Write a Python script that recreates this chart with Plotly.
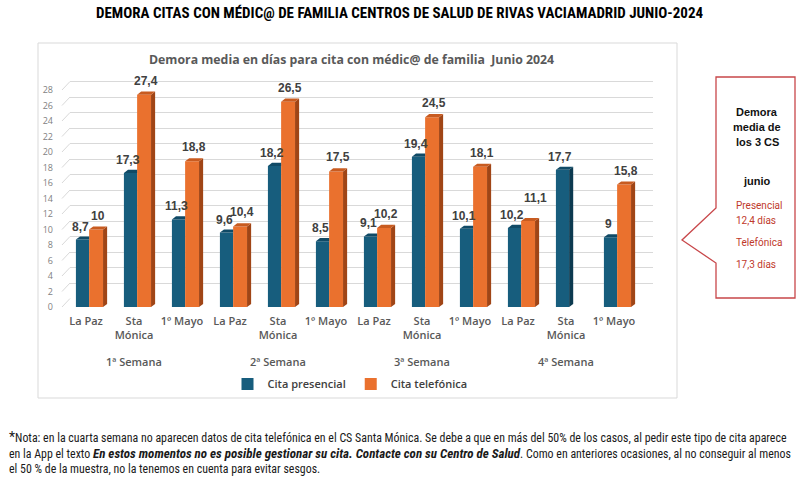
import plotly.graph_objects as go

# ---------------- data ----------------
weeks = ["1ª Semana", "2ª Semana", "3ª Semana", "4ª Semana"]
centros = ["La Paz", "Sta<br>Mónica", "1º Mayo"]
presencial = [8.7, 17.3, 11.3, 9.6, 18.2, 8.5, 9.1, 19.4, 10.1, 10.2, 17.7, 9.0]
telefonica = [10.0, 27.4, 18.8, 10.4, 26.5, 17.5, 10.2, 24.5, 18.1, 11.1, None, 15.8]
yticks = list(range(0, 29, 2))
series_names = ["Cita presencial", "Cita telefónica"]

title_main = "DEMORA CITAS CON MÉDIC@ DE FAMILIA CENTROS DE SALUD DE RIVAS VACIAMADRID JUNIO-2024"
title_chart = "Demora media en días para cita con médic@ de familia  Junio 2024"
callout_head = ["Demora", "media de", "los 3 CS", "junio"]
callout_red = ["Presencial", "12,4 días", "Telefónica", "17,3 días"]
note_lines = [
    "<span style='font-size:14px'>*</span>Nota: en la cuarta semana no aparecen datos de cita telefónica en el CS Santa Mónica. Se debe a que en más del 50% de los casos, al pedir este tipo de cita aparece",
    "en la App el texto <span style='font-size:13px'><b><i>En estos momentos no es posible gestionar su cita. Contacte con su Centro de Salud</i></b></span>. Como en anteriores ocasiones, al no conseguir al menos",
    "el 50 % de la muestra, no la tenemos en cuenta para evitar sesgos.",
]

n = len(presencial)
xs = list(range(n))
ticktext = [centros[i % 3] for i in xs]

# ---------------- geometry / style ----------------
W, H = 800, 478
L, R, T, B = 62, 147, 66, 171
PW, PH = W - L - R, H - T - B


def X(px):
    return (px - L) / PW


def Y(py):
    return (H - B - py) / PH


BLUE, BLUE_TOP, BLUE_SIDE = "#175D7D", "#104A66", "#0C3A50"
ORG, ORG_TOP, ORG_SIDE = "#EA712E", "#C85B20", "#A04516"
b_off, b_w = -0.21, 0.275
o_off, o_w = 0.065, 0.29
dx, dy = 0.085, 0.4
GRID = "#D9D9D9"

fig = go.Figure()

# dummy trace on the grid subplot (xy)
fig.add_trace(go.Scatter(x=[], y=[], xaxis="x", yaxis="y", showlegend=False, hoverinfo="skip"))

# front faces
fig.add_trace(go.Bar(x=xs, y=presencial, offset=b_off, width=b_w, marker=dict(color=BLUE, line=dict(width=0)),
                     name=series_names[0], xaxis="x2", yaxis="y2"))
fig.add_trace(go.Bar(x=xs, y=telefonica, offset=o_off, width=o_w, marker=dict(color=ORG, line=dict(width=0)),
                     name=series_names[1], xaxis="x2", yaxis="y2"))


def poly(px, py, color):
    fig.add_trace(go.Scatter(x=px + [px[0]], y=py + [py[0]], fill="toself", fillcolor=color, mode="lines",
                             line=dict(width=0, color=color), showlegend=False, hoverinfo="skip",
                             xaxis="x2", yaxis="y2"))


for i in xs:
    v = presencial[i]
    t = telefonica[i]
    x0, x1 = i + b_off, i + b_off + b_w
    if t is None:
        poly([x1, x1, x1 + dx, x1 + dx], [0, v, v + dy, dy], BLUE_SIDE)
        poly([x0, x1, x1 + dx, x0 + dx], [v, v, v + dy, v + dy], BLUE_TOP)
    else:
        poly([x0, x1, x1, x0 + dx], [v, v, v + dy, v + dy], BLUE_TOP)
    if t is not None:
        o0, o1 = i + o_off, i + o_off + o_w
        poly([o1, o1, o1 + dx, o1 + dx], [0, t, t + dy, dy], ORG_SIDE)
        poly([o0, o1, o1 + dx, o0 + dx], [t, t, t + dy, t + dy], ORG_TOP)


def fmt(v):
    return f"{v:g}".replace(".", ",")


LBL = dict(family="Liberation Sans", size=12, color="#404040", weight="bold")
annotations = []
for i in xs:
    v, t = presencial[i], telefonica[i]
    annotations.append(dict(x=i + b_off + b_w / 2 - 0.05, y=v, xref="x2", yref="y2", text=fmt(v),
                            showarrow=False, xanchor="center", yanchor="bottom", yshift=4, font=LBL))
    if t is not None:
        crowded = len(fmt(v)) >= 4 and len(fmt(t)) >= 4 and abs(t - v) < 1.5
        annotations.append(dict(x=i + o_off + o_w / 2 + 0.03, y=t, xref="x2", yref="y2", text=fmt(t),
                                showarrow=False, xanchor="center", yanchor="bottom",
                                yshift=14 if crowded else 5, xshift=6 if crowded else 0, font=LBL))

# week labels
for k, wname in enumerate(weeks):
    annotations.append(dict(x=3 * k + 1, y=Y(361), xref="x2", yref="paper", text=wname, showarrow=False,
                            xanchor="center", yanchor="middle",
                            font=dict(family="Open Sans", size=11, color="#595959", weight=600)))

# titles
annotations.append(dict(x=X(400), y=Y(13), xref="paper", yref="paper", text=f"<b>{title_main}</b>", showarrow=False,
                        font=dict(family="Liberation Sans Narrow, Roboto Condensed, Liberation Sans", size=15, color="#000000"),
                        xanchor="center", yanchor="middle"))
annotations.append(dict(x=X(351), y=Y(59), xref="paper", yref="paper", text=f"<b>{title_chart}</b>", showarrow=False,
                        font=dict(family="Open Sans", size=12.3, color="#595959"), xanchor="center", yanchor="middle"))

# callout texts
for txt, py in zip(callout_head, [112, 127, 142, 181]):
    annotations.append(dict(x=X(757), y=Y(py), xref="paper", yref="paper", text=f"<b>{txt}</b>", showarrow=False,
                            xanchor="center", yanchor="middle",
                            font=dict(family="Liberation Sans", size=11, color="#111111")))
for txt, py in zip(callout_red, [205, 220, 242, 264]):
    annotations.append(dict(x=X(734), y=Y(py), xref="paper", yref="paper", text=txt, showarrow=False, xanchor="left",
                            font=dict(family="Roboto", size=10, color="#C0392B"), yanchor="middle"))

# footnote
for txt, py in zip(note_lines, [437, 453, 469]):
    annotations.append(dict(x=X(7), y=Y(py), xref="paper", yref="paper", text=txt, showarrow=False, xanchor="left",
                            font=dict(family="Liberation Sans Narrow, Roboto Condensed, Liberation Sans", size=11.9, color="#1a1a1a"),
                            yanchor="middle"))

shapes = []
# chart frame
shapes.append(dict(type="rect", xref="paper", yref="paper", x0=X(38), x1=X(677), y0=Y(398), y1=Y(43),
                   line=dict(color=GRID, width=1), layer="below"))
# side wall grid connectors
for v in yticks:
    shapes.append(dict(type="line", xref="paper", yref="y2", ysizemode="pixel", yanchor=v, y0=0, y1=8.5,
                       x0=0, x1=X(70), line=dict(color=GRID, width=1), layer="below"))
# callout
pts = [(716, 77), (795, 77), (795, 298), (716, 298), (716, 263), (682, 240), (716, 208)]
path = "M " + " L ".join(f"{X(a):.5f},{Y(b):.5f}" for a, b in pts) + " Z"
shapes.append(dict(type="path", xref="paper", yref="paper", path=path, line=dict(color="#C8474A", width=1.3),
                   fillcolor="rgba(255,255,255,0)"))

fig.update_layout(
    width=W, height=H,
    margin=dict(l=L, r=R, t=T, b=B, pad=0, autoexpand=False),
    paper_bgcolor="white", plot_bgcolor="rgba(0,0,0,0)",
    barmode="overlay",
    showlegend=True,
    legend=dict(orientation="h", x=X(350), xanchor="center", y=Y(384), yanchor="middle",
                font=dict(family="Open Sans", size=11, color="#404040", weight=600), itemwidth=30, traceorder="normal",
                bgcolor="rgba(0,0,0,0)", tracegroupgap=0),
    xaxis=dict(domain=[X(70), 1], range=[-0.5, 11.5], visible=False, anchor="y"),
    yaxis=dict(domain=[Y(298.5), 1], range=[0, 30], tickvals=yticks, showticklabels=False, showgrid=True,
               gridcolor=GRID, gridwidth=1, zeroline=False, showline=False, anchor="x", ticks=""),
    xaxis2=dict(domain=[0, X(638)], range=[-0.5, 11.5], tickvals=xs, ticktext=ticktext, anchor="y2",
                showgrid=False, zeroline=False, showline=False, ticks="", ticklabelstandoff=6,
                tickfont=dict(family="Open Sans", size=11, color="#595959", weight=600)),
    yaxis2=dict(domain=[0, Y(74.5)], range=[0, 30], tickvals=yticks, anchor="x2", showgrid=False, zeroline=False,
                showline=False, ticks="", ticklabelstandoff=8,
                tickfont=dict(family="Open Sans", size=9, color="#7F7F7F")),
    annotations=annotations,
    shapes=shapes,
    hovermode=False,
)

fig.write_html("out.html", config={"displayModeBar": False},
               post_script="document.body.style.margin='0px';document.body.style.overflow='hidden';")
